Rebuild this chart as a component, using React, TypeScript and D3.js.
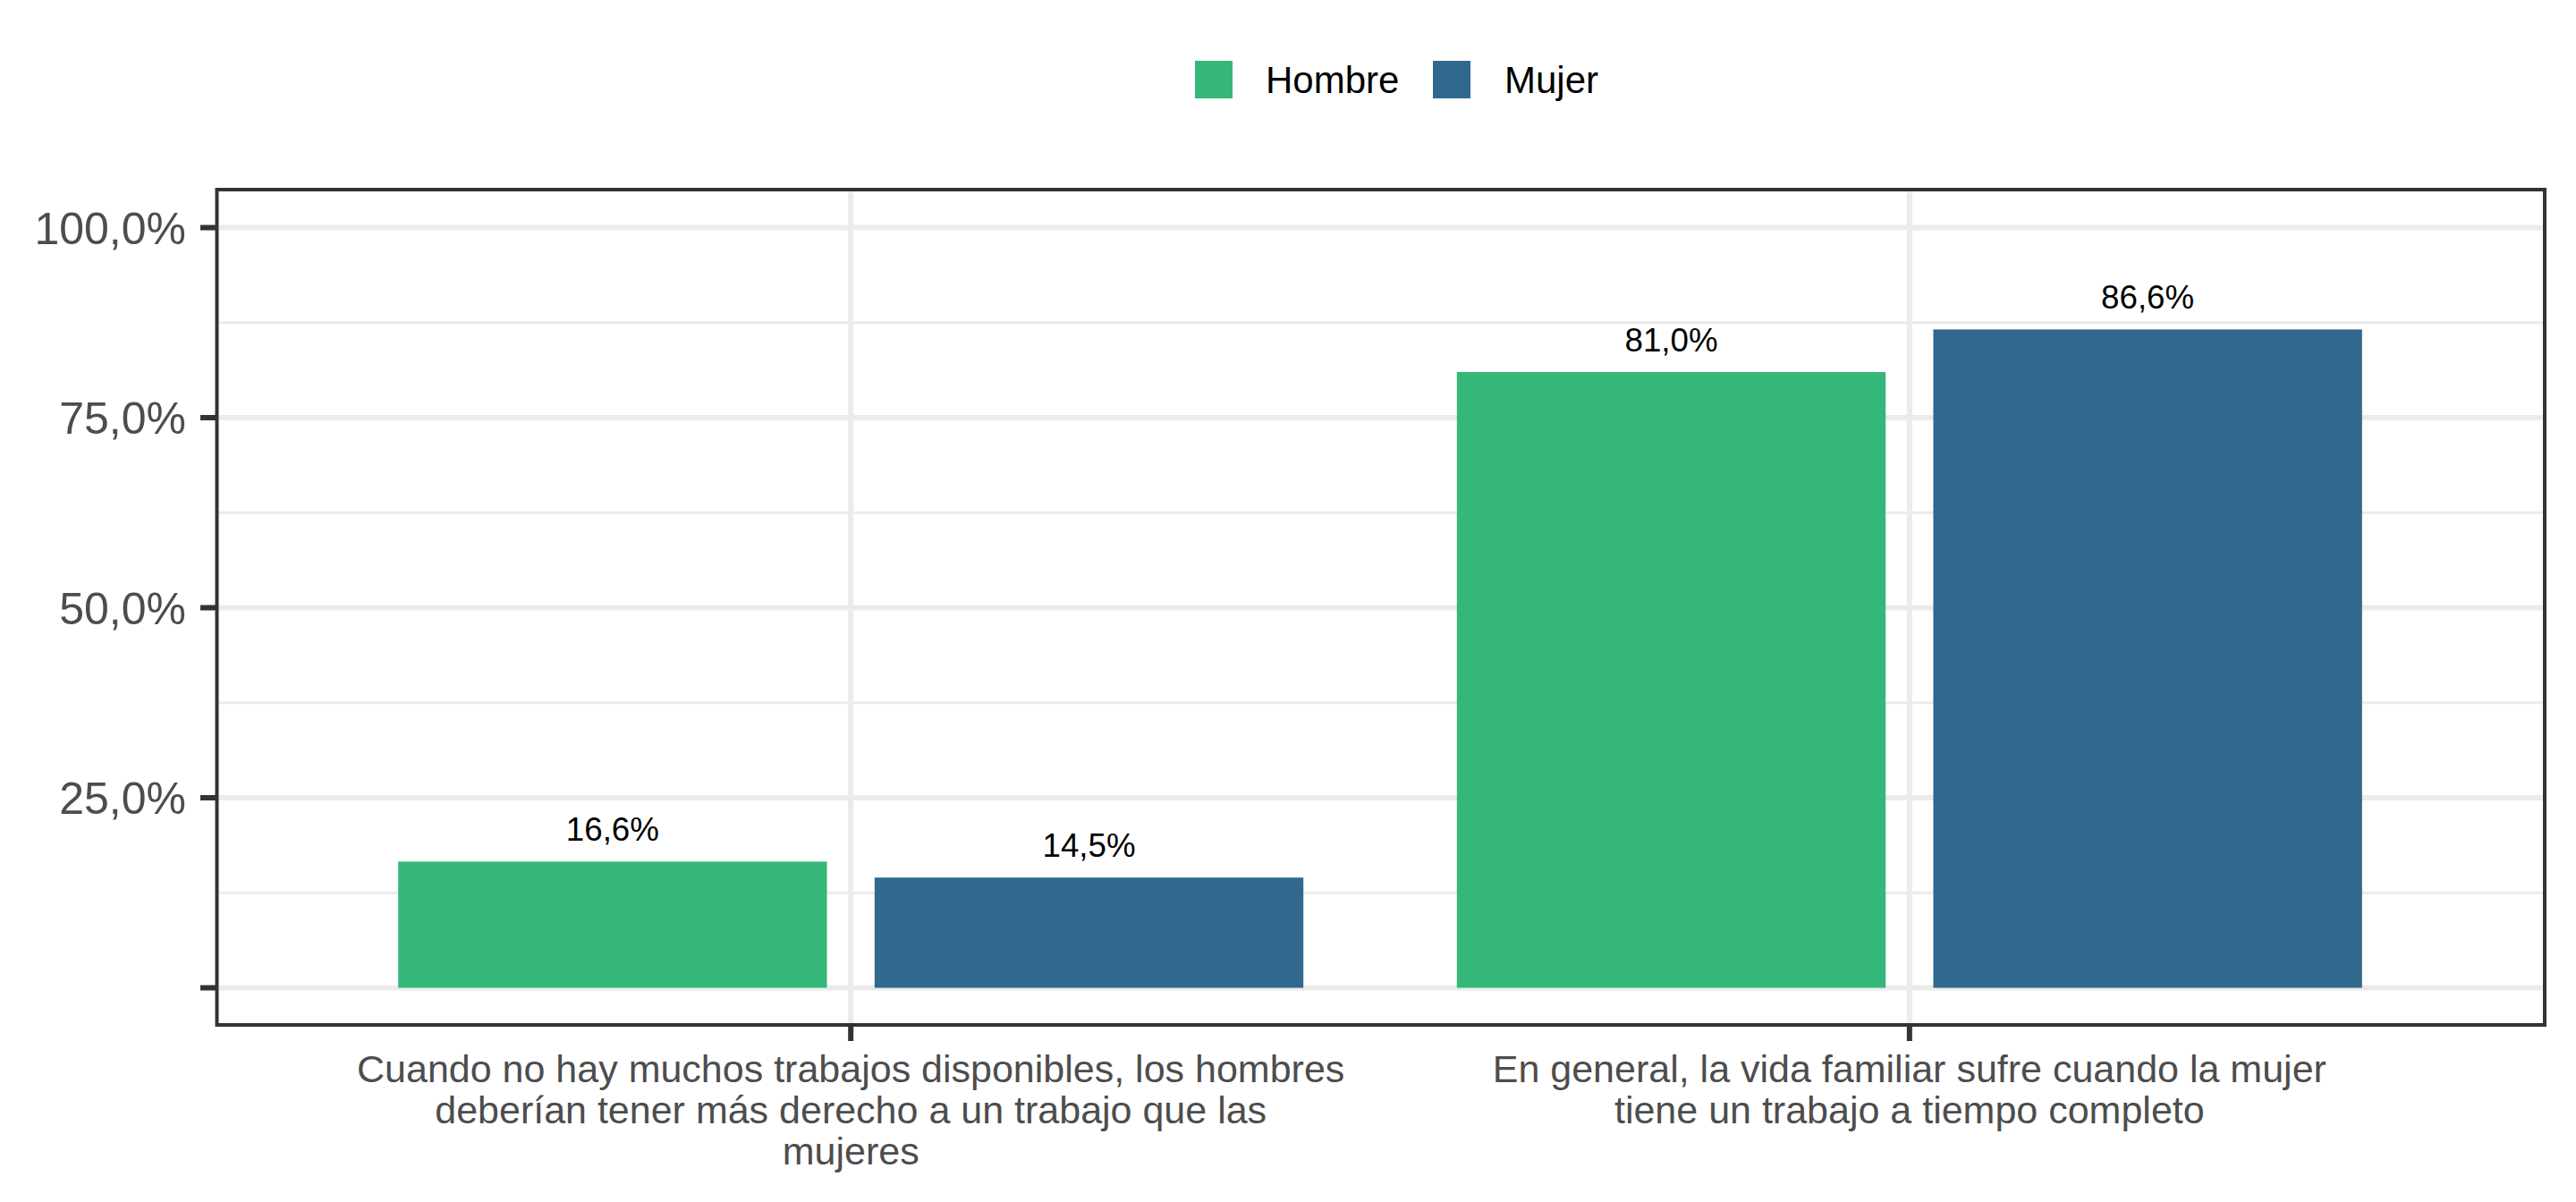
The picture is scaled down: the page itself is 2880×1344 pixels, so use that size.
import React from "react";
import * as d3 from "d3";

// Survey statements (x categories) and their wrapped label lines
const categories = ["trabajos", "familia"];
const categoryLabelLines = [
  [
    "Cuando no hay muchos trabajos disponibles, los hombres",
    "deberían tener más derecho a un trabajo que las",
    "mujeres",
  ],
  [
    "En general, la vida familiar sufre cuando la mujer",
    "tiene un trabajo a tiempo completo",
  ],
];

// Series and their percentages of agreement
const seriesNames = ["Hombre", "Mujer"];
const seriesColors = ["#35B779", "#31688E"];
const hombreValues = [16.6, 81.0];
const mujerValues = [14.5, 86.6];

// Y axis ticks
const yMajorTicks = [0, 25, 50, 75, 100];
const yMajorLabels = ["", "25,0%", "50,0%", "75,0%", "100,0%"];
const yMinorTicks = [12.5, 37.5, 62.5, 87.5];

const W = 2880;
const H = 1344;
const FONT = "'Liberation Sans', Arial, Helvetica, sans-serif";

const panel = { left: 241, right: 2845, top: 212, bottom: 1147 };

const esLocale = d3.formatLocale({
  decimal: ",",
  thousands: ".",
  grouping: [3],
  currency: ["", " €"],
});
const fmt = esLocale.format(".1f");

export default function App() {
  const valuesBySeries = [hombreValues, mujerValues];

  // Outer band: each category occupies 0.9 of a unit step, with 0.6-unit margins at the ends
  const x0 = d3
    .scaleBand<string>()
    .domain(categories)
    .range([panel.left, panel.right])
    .paddingInner(0.1)
    .paddingOuter(0.15);
  // Inner band: dodged bars within a category
  const x1 = d3
    .scaleBand<string>()
    .domain(seriesNames)
    .range([0, x0.bandwidth()])
    .paddingInner(0.1)
    .paddingOuter(0.05);

  const y = d3.scaleLinear().domain([-5, 105]).range([panel.bottom, panel.top]);

  const catCenter = (c: string) => (x0(c) as number) + x0.bandwidth() / 2;

  const gridColor = "#EBEBEB";
  const axisColor = "#333333";
  const textGray = "#4D4D4D";

  // Legend layout
  const legendKey = 42;
  const legendY = 68;
  const legendItems = [
    { name: seriesNames[0], color: seriesColors[0], keyX: 1336, textX: 1415 },
    { name: seriesNames[1], color: seriesColors[1], keyX: 1602, textX: 1682 },
  ];

  return (
    <svg
      width={W}
      height={H}
      viewBox={`0 0 ${W} ${H}`}
      style={{ position: "absolute", left: 0, top: 0, display: "block", background: "#fff" }}
      fontFamily={FONT}
    >
      <rect x={0} y={0} width={W} height={H} fill="#fff" />

      {/* Legend */}
      <g>
        {legendItems.map((it) => (
          <g key={it.name}>
            <rect x={it.keyX} y={legendY} width={legendKey} height={legendKey} fill={it.color} />
            <text
              x={it.textX}
              y={legendY + legendKey / 2}
              dy="0.36em"
              fontSize={42}
              fill="#000"
            >
              {it.name}
            </text>
          </g>
        ))}
      </g>

      {/* Grid */}
      <g>
        {yMinorTicks.map((t) => (
          <line
            key={"mn" + t}
            x1={panel.left}
            x2={panel.right}
            y1={y(t)}
            y2={y(t)}
            stroke={gridColor}
            strokeWidth={3}
          />
        ))}
        {yMajorTicks.map((t) => (
          <line
            key={"mj" + t}
            x1={panel.left}
            x2={panel.right}
            y1={y(t)}
            y2={y(t)}
            stroke={gridColor}
            strokeWidth={6}
          />
        ))}
        {categories.map((c) => (
          <line
            key={"vx" + c}
            x1={catCenter(c)}
            x2={catCenter(c)}
            y1={panel.top}
            y2={panel.bottom}
            stroke={gridColor}
            strokeWidth={6}
          />
        ))}
      </g>

      {/* Bars */}
      <g>
        {categories.map((c, ci) =>
          seriesNames.map((s, si) => {
            const v = valuesBySeries[si][ci];
            const bx = (x0(c) as number) + (x1(s) as number);
            return (
              <rect
                key={c + s}
                x={bx}
                y={y(v)}
                width={x1.bandwidth()}
                height={y(0) - y(v)}
                fill={seriesColors[si]}
              />
            );
          })
        )}
      </g>

      {/* Value labels */}
      <g>
        {categories.map((c, ci) =>
          seriesNames.map((s, si) => {
            const v = valuesBySeries[si][ci];
            const cx = (x0(c) as number) + (x1(s) as number) + x1.bandwidth() / 2;
            return (
              <text
                key={"lbl" + c + s}
                x={cx}
                y={y(v) - 23}
                textAnchor="middle"
                fontSize={36.7}
                fill="#000"
              >
                {fmt(v) + "%"}
              </text>
            );
          })
        )}
      </g>

      {/* Panel border */}
      <rect
        x={panel.left + 1.5}
        y={panel.top}
        width={panel.right - panel.left - 1.5}
        height={panel.bottom - panel.top - 1}
        fill="none"
        stroke={axisColor}
        strokeWidth={4}
      />

      {/* Y axis ticks and labels */}
      <g>
        {yMajorTicks.map((t, i) => (
          <g key={"yt" + t}>
            <line
              x1={panel.left - 17}
              x2={panel.left + 1}
              y1={y(t)}
              y2={y(t)}
              stroke={axisColor}
              strokeWidth={6}
            />
            <text
              x={208}
              y={y(t)}
              dy="0.36em"
              textAnchor="end"
              fontSize={50}
              fill={textGray}
            >
              {yMajorLabels[i]}
            </text>
          </g>
        ))}
      </g>

      {/* X axis ticks and labels */}
      <g>
        {categories.map((c, ci) => (
          <g key={"xt" + c}>
            <line
              x1={catCenter(c)}
              x2={catCenter(c)}
              y1={panel.bottom - 1}
              y2={panel.bottom + 17}
              stroke={axisColor}
              strokeWidth={6}
            />
            <text textAnchor="middle" fontSize={43} fill={textGray}>
              {categoryLabelLines[ci].map((line, li) => (
                <tspan key={li} x={catCenter(c)} y={1209.5 + li * 46}>
                  {line}
                </tspan>
              ))}
            </text>
          </g>
        ))}
      </g>
    </svg>
  );
}
